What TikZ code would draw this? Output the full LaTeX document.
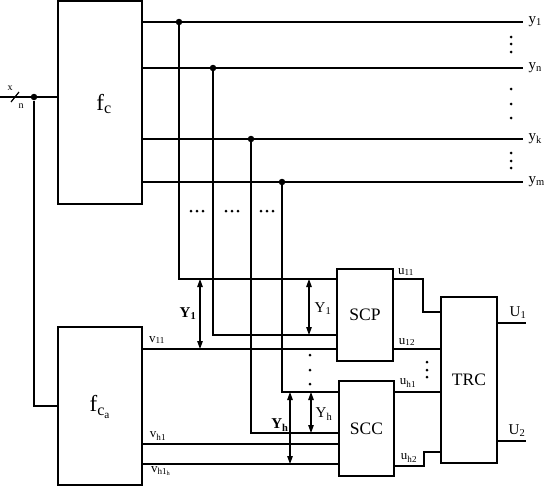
\documentclass[tikz,border=0pt]{standalone}
\usepackage{fontspec}
\setmainfont{Liberation Serif}
\usetikzlibrary{arrows.meta,calc}
\newcommand{\lsub}[1]{\textsubscript{#1}}
\begin{document}
\begin{tikzpicture}[x=1pt,y=-1pt, line width=1.2pt,
 box/.style={draw, line width=1.4pt, inner sep=0pt},
 dot/.style={circle, fill, inner sep=0pt, minimum size=6.5pt},
 sdot/.style={circle, fill, inner sep=0pt, minimum size=3pt},
 slab/.style={font=\fontsize{13}{13}\selectfont, inner sep=0pt},
 tiny/.style={font=\fontsize{10}{10}\selectfont, inner sep=0pt},
 ylab/.style={font=\fontsize{15}{15}\selectfont, inner sep=0pt},
 blab/.style={font=\fontsize{15}{15}\selectfont\bfseries, inner sep=0pt},
 boxtext/.style={font=\fontsize{17.5}{17.5}\selectfont},
 dim/.style={arrows={Triangle[length=8pt,width=5.5pt]-Triangle[length=8pt,width=5.5pt]}}]
\useasboundingbox (0,0) rectangle (549,490);

% boxes
\node[box, minimum width=84pt, minimum height=203pt] (fc) at (100,102.5) {};
\node[font=\fontsize{23}{23}\selectfont] (fclab) at (104,104) {f\lsub{c}};
\node[box, minimum width=84pt, minimum height=158pt] (fca) at (100,406) {};
\node[font=\fontsize{23}{23}\selectfont] (fcalab) at (100,407) {f\lsub{c\lsub{a}}};
\node[box, boxtext, minimum width=56pt, minimum height=92pt] (SCP) at (365,315) {SCP};
\node[box, boxtext, minimum width=55pt, minimum height=95pt] (SCC) at (366.5,428.5) {SCC};
\node[box, boxtext, minimum width=56pt, minimum height=166pt] (TRC) at (469,380) {TRC};

% input
\coordinate (in0) at (0,97);
\node[dot] (jin) at (34,97) {};
\draw (in0) -- (fc.west |- in0);
\coordinate (sl1) at (11,102);
\coordinate (sl2) at (19,92);
\draw (sl1) -- (sl2);
\node[tiny] (xl) at (10,88) {x};
\node[tiny] (nl) at (21,106) {n};
\draw (jin) |- (fca.west);

% outputs of fc
\coordinate (e1) at (523,22);
\coordinate (e2) at (523,68);
\coordinate (e3) at (523,139);
\coordinate (e4) at (523,182);
\draw (fc.east |- e1) -- (e1);
\draw (fc.east |- e2) -- (e2);
\draw (fc.east |- e3) -- (e3);
\draw (fc.east |- e4) -- (e4);
\node[ylab, anchor=west] (y1l) at (528,22) {y\lsub{1}};
\node[ylab, anchor=west] (ynl) at (528,68) {y\lsub{n}};
\node[ylab, anchor=west] (ykl) at (528,139) {y\lsub{k}};
\node[ylab, anchor=west] (yml) at (528,182) {y\lsub{m}};
\foreach \yy [count=\i] in {37,44,52,89,104,118,153,161,168}
  \node[sdot] (rd\i) at (511,\yy) {};

% junctions
\node[dot] (j1) at (179,22) {};
\node[dot] (j2) at (213,68) {};
\node[dot] (j3) at (251,139) {};
\node[dot] (j4) at (282,182) {};
\draw (j1.center) |- (SCP.west |- 0,279);
\draw (j2.center) |- (SCP.west |- 0,335);
\draw (j3.center) |- (SCC.west |- 0,433);
\draw (j4.center) |- (SCC.west |- 0,392);

% ellipses
\foreach \xx [count=\i] in {197,232,267}{
  \node[sdot] (el\i a) at (\xx-6,211) {};
  \node[sdot] (el\i b) at (\xx,211) {};
  \node[sdot] (el\i c) at (\xx+6,211) {};
}
\foreach \yy [count=\i] in {355,370,384}
  \node[sdot] (md\i) at (310,\yy) {};
\foreach \yy [count=\i] in {362,370,377}
  \node[sdot] (ud\i) at (427,\yy) {};

% v lines
\draw (fca.east |- 0,349) -- (SCP.west |- 0,349);
\draw (fca.east |- 0,444) -- (SCC.west |- 0,444);
\draw (fca.east |- 0,464) -- (SCC.west |- 0,464);
\node[slab] (v11) at (157,340) {v\lsub{11}};
\node[slab] (vh1) at (158,436) {v\lsub{h1}};
\node[slab] (vh1h) at (161,471) {v\lsub{h1\lsub{h}}};

% dimension arrows
\coordinate (a1t) at (200,279); \coordinate (a1b) at (200,349);
\coordinate (a2t) at (309,279); \coordinate (a2b) at (309,335);
\coordinate (a3t) at (290,392); \coordinate (a3b) at (290,464);
\coordinate (a4t) at (311,392); \coordinate (a4b) at (311,433);
\draw[dim] (a1t) -- (a1b);
\draw[dim] (a2t) -- (a2b);
\draw[dim] (a3t) -- (a3b);
\draw[dim] (a4t) -- (a4b);
\node[blab] (Y1a) at (188,314) {Y\lsub{1}};
\node[ylab] (Y1b) at (323,309) {Y\lsub{1}};
\node[blab] (Yha) at (280,425) {Y\lsub{h}};
\node[ylab] (Yhb) at (324,414) {Y\lsub{h}};

% u lines
\draw (SCP.east |- 0,279) -| (423,312) -- (TRC.west |- 0,312);
\draw (SCP.east |- 0,349) -- (TRC.west |- 0,349);
\draw (SCC.east |- 0,392) -- (TRC.west |- 0,392);
\draw (SCC.east |- 0,466) -| (424,452) -- (TRC.west |- 0,452);
\node[slab] (u11) at (406,272) {u\lsub{11}};
\node[slab] (u12) at (407,342) {u\lsub{12}};
\node[slab] (uh1) at (408,383) {u\lsub{h1}};
\node[slab] (uh2) at (409,458) {u\lsub{h2}};

% outputs
\coordinate (U1e) at (526,323);
\coordinate (U2e) at (526,441);
\draw (TRC.east |- U1e) -- (U1e);
\draw (TRC.east |- U2e) -- (U2e);
\node[ylab] (U1l) at (518,313) {U\lsub{1}};
\node[ylab] (U2l) at (517,431) {U\lsub{2}};
\end{tikzpicture}
\end{document}
